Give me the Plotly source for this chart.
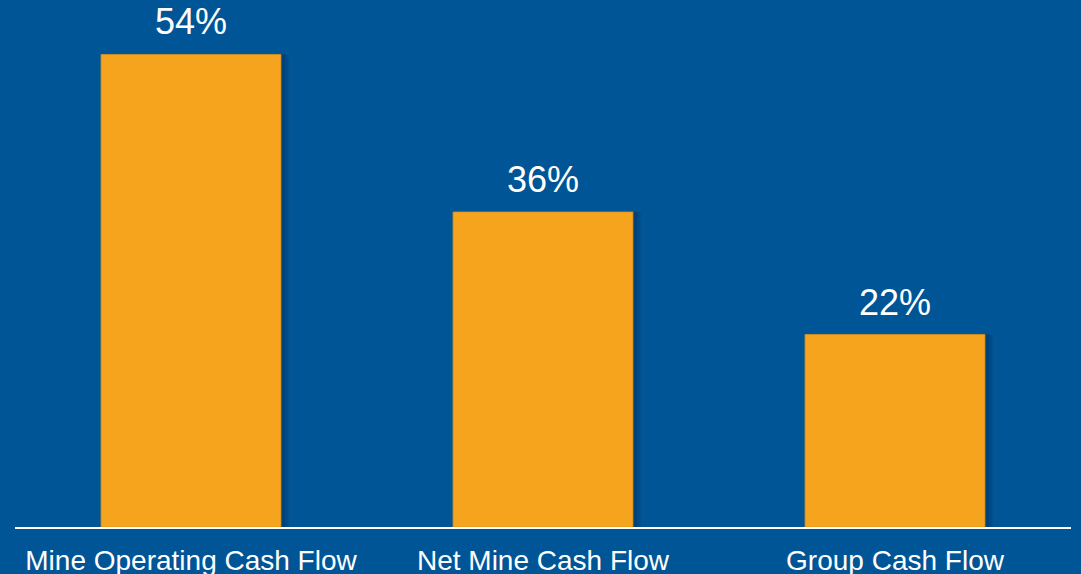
import plotly.graph_objects as go

categories = ["Mine Operating Cash Flow", "Net Mine Cash Flow", "Group Cash Flow"]
values = [54, 36, 22]
labels = ["54%", "36%", "22%"]

BG = "#005596"
BAR = "#F6A31E"
bar_w = 0.511

fig = go.Figure()
# soft shadow behind bars (two layers for a gradient feel)
for extra, alpha in [(0.022, 0.12), (0.012, 0.18)]:
    fig.add_trace(go.Bar(
        x=categories, y=values, width=bar_w + extra, offset=-bar_w / 2,
        marker=dict(color=f"rgba(0,20,50,{alpha})", line=dict(width=0)),
        hoverinfo="skip", showlegend=False))
fig.add_trace(go.Bar(
    x=categories, y=values, width=bar_w,
    marker=dict(color=BAR, line=dict(color="#D9921F", width=0.8)),
    showlegend=False))

for c, v, t in zip(categories, values, labels):
    fig.add_annotation(x=c, y=v, text=t, showarrow=False, yanchor="bottom",
                       yshift=10, font=dict(size=36, color="white",
                                            family="Liberation Sans, Arial"))

fig.update_layout(
    width=1081, height=574,
    margin=dict(l=15, r=10, t=2, b=47, autoexpand=False),
    paper_bgcolor=BG, plot_bgcolor=BG,
    barmode="overlay",
    font=dict(family="Liberation Sans, Arial", color="white"),
    xaxis=dict(showline=True, linecolor="white", linewidth=2, ticks="",
               tickfont=dict(size=28, color="white"), ticklabelstandoff=7,
               showgrid=False, zeroline=False, automargin=False),
    yaxis=dict(range=[0, 60], visible=False, showgrid=False, zeroline=False,
               automargin=False),
)

fig.write_html("out.html", config={"displayModeBar": False},
               post_script="document.body.style.margin='0';document.body.style.background='#005596';")
